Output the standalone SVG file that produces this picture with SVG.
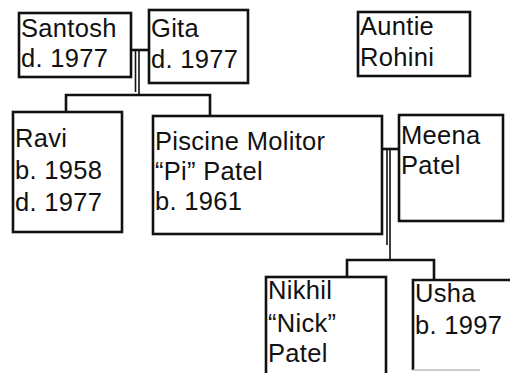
<svg xmlns="http://www.w3.org/2000/svg" width="510" height="373" viewBox="0 0 510 373">
<style>
.box{fill:#fff;stroke:#111;stroke-width:2.6}
.t{font-family:"Liberation Sans",Arial,sans-serif;font-size:25.5px;letter-spacing:0.3px;fill:#111}
.c{stroke:#111;stroke-width:2.6;fill:none}
.c2{stroke:#111;stroke-width:1.6;fill:none}
</style>
<rect width="510" height="373" fill="#fff"/>
<g id="connectors">
<line class="c" x1="131" y1="50" x2="149" y2="50"/>
<line class="c2" x1="135.5" y1="50" x2="135.5" y2="92"/>
<line class="c2" x1="139" y1="50" x2="139" y2="95"/>
<path class="c" d="M66,112 V95 H210 V116"/>
<line class="c" x1="382" y1="149" x2="399" y2="149"/>
<line class="c2" x1="387" y1="149" x2="387" y2="245"/>
<line class="c2" x1="390" y1="149" x2="390" y2="260"/>
<path class="c" d="M347,277 V260 H434 V280"/>
</g>
<g id="santosh">
<rect class="box" x="19" y="13" width="112" height="64"/>
<text class="t" x="21" y="36.5">Santosh</text>
<text class="t" x="21" y="67">d. 1977</text>
</g>
<g id="gita">
<rect class="box" x="149" y="10" width="99" height="73"/>
<text class="t" x="151" y="37">Gita</text>
<text class="t" x="151" y="68">d. 1977</text>
</g>
<g id="auntie-rohini">
<rect class="box" x="358" y="12" width="112" height="64"/>
<text class="t" x="360" y="35">Auntie</text>
<text class="t" x="360" y="66">Rohini</text>
</g>
<g id="ravi">
<rect class="box" x="13" y="112" width="109" height="120"/>
<text class="t" x="15" y="147">Ravi</text>
<text class="t" x="15" y="178.5">b. 1958</text>
<text class="t" x="15" y="210.5">d. 1977</text>
</g>
<g id="pi">
<rect class="box" x="153" y="116" width="229" height="118"/>
<text class="t" x="155" y="150">Piscine Molitor</text>
<text class="t" x="155" y="180">“Pi” Patel</text>
<text class="t" x="155" y="210">b. 1961</text>
</g>
<g id="meena">
<rect class="box" x="399" y="115" width="104" height="106"/>
<text class="t" x="401" y="143.5">Meena</text>
<text class="t" x="401" y="174">Patel</text>
</g>
<g id="nikhil">
<rect class="box" x="266" y="277" width="120" height="110"/>
<text class="t" x="268" y="298.5">Nikhil</text>
<text class="t" x="268" y="332">“Nick”</text>
<text class="t" x="268" y="362">Patel</text>
</g>
<g id="usha">
<path d="M413,370 V280 H515" fill="none" stroke="#111" stroke-width="2.6"/>
<line x1="413" y1="370" x2="480" y2="370" stroke="#bbb" stroke-width="1.5"/>
<text class="t" x="415" y="301.5">Usha</text>
<text class="t" x="415" y="334">b. 1997</text>
</g>
</svg>
